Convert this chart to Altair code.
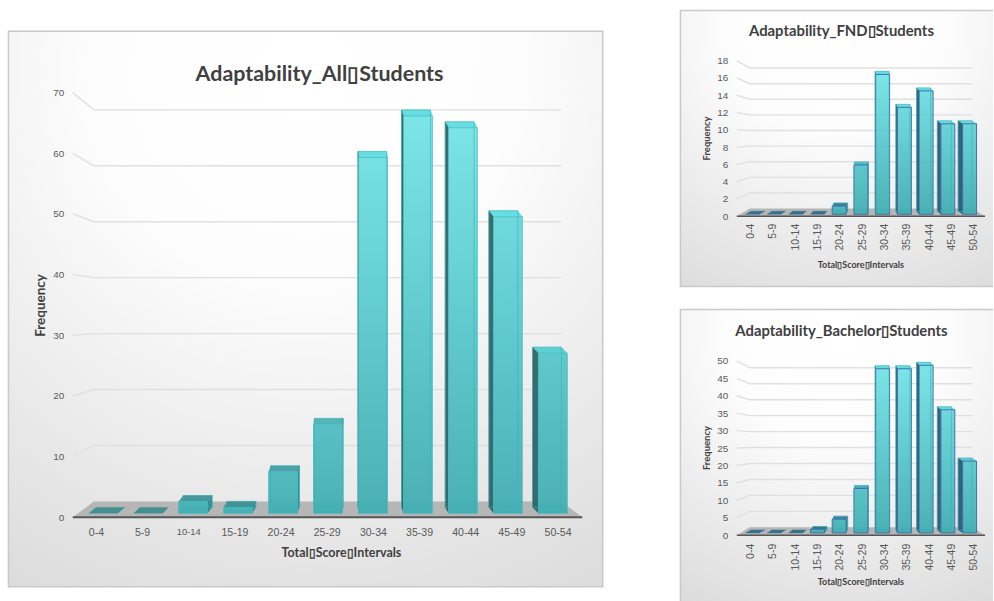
import altair as alt
import pandas as pd

# Score bins and the frequency of each bin for the three student groups
intervals = ["0-4", "5-9", "10-14", "15-19", "20-24", "25-29", "30-34", "35-39", "40-44", "45-49", "50-54"]
all_students = [0, 0, 2, 1, 7, 15, 60, 67, 65, 50, 27]
fnd_students = [0, 0, 0, 0, 1, 6, 17, 13, 15, 11, 11]
bachelor_students = [0, 0, 0, 1, 4, 13, 48, 48, 49, 36, 21]

BOX = "\u25af"
title_all = f"Adaptability_All{BOX}Students"
title_fnd = f"Adaptability_FND{BOX}Students"
title_bachelor = f"Adaptability_Bachelor{BOX}Students"
x_title = f"Total{BOX}Score{BOX}Intervals"
y_title = "Frequency"

LABEL_FONT = "Liberation Sans"
HEAD_FONT = "Lato"


def lerp(a, b, t):
    pa = [int(a[i:i + 2], 16) for i in (1, 3, 5)]
    pb = [int(b[i:i + 2], 16) for i in (1, 3, 5)]
    return "#" + "".join(f"{round(p + (q - p) * t):02x}" for p, q in zip(pa, pb))


def x_domain(origin, per_unit, width):
    return [(0 - origin) / per_unit, (width - origin) / per_unit]


def y_domain(origin, per_unit, height):
    return [(origin - height) / per_unit, origin / per_unit]


def scale(domain):
    return alt.Scale(domain=domain, nice=False, zero=False, padding=0)


def polygon_layer(rows, xs, ys):
    return alt.Chart(pd.DataFrame(rows)).mark_line(strokeWidth=0.4, opacity=0.95).encode(
        x=alt.X("x:Q", scale=xs, axis=None),
        y=alt.Y("y:Q", scale=ys, axis=None),
        order="k:Q",
        detail="face:N",
        fill=alt.Fill("col:N", scale=None),
        stroke=alt.Stroke("col:N", scale=None),
    )


def panel(g, title, values, ticks):
    w, h = g["w"], g["h"]
    one = pd.DataFrame({"a": [0]})
    layers = []

    # Panel backdrop
    layers.append(alt.Chart(one).mark_rect(color={
        "gradient": "radial", "x1": 0.5, "y1": 0.1, "r1": 0, "x2": 0.5, "y2": 0.1, "r2": 1,
        "stops": [{"offset": 0, "color": "#ffffff"}, {"offset": 0.35, "color": "#fdfdfd"},
                  {"offset": 0.95, "color": "#dedede"}, {"offset": 1, "color": "#dcdcdc"}],
    }).encode(x=alt.value(0), x2=alt.value(w), y=alt.value(0), y2=alt.value(h)))

    # Front-plane scales carry the axes, the floor and the wall lines
    fx0, fsp = g["front_x"], g["front_sp"]
    fy0, fs = g["front_y"], g["front_s"]
    xf = scale(x_domain(fx0, fsp, w))
    yf = scale(y_domain(fy0, fs, h))
    to_fx = lambda px: (px - fx0) / fsp
    to_fy = lambda py: (fy0 - py) / fs

    label_size = g["label_size"]
    if g["bump"]:
        label_size = {"condition": {"test": "datum.value == 2", "value": g["label_size"] - 1.2}, "value": g["label_size"]}

    labels_js = "[" + ",".join(f"'{s}'" for s in intervals) + "]"
    x_axis = alt.Axis(
        values=list(range(len(intervals))), labelExpr=f"{labels_js}[datum.value]", offset=-(h - fy0),
        domain=False, ticks=False, grid=False, labelAngle=g["angle"], labelPadding=g["x_pad"], zindex=1,
        labelFont=LABEL_FONT, labelFontSize=label_size, labelColor="#595959", labelOverlap=False,
        labelBaseline="middle" if g["angle"] else "top", labelAlign="right" if g["angle"] else "center",
        title=x_title, titleFont=HEAD_FONT, titleFontSize=g["x_title_size"], titleFontWeight="bold",
        titleColor="#404040", titleX=g["xt_x"], titleY=g["xt_y"], titleBaseline="middle",
    )
    y_axis = alt.Axis(
        values=ticks, offset=-g["y_axis_x"], domain=False, ticks=False, grid=False, labelPadding=0, zindex=1,
        labelFont=LABEL_FONT, labelFontSize=g["y_size"], labelColor="#595959", labelOverlap=False,
        title=y_title, titleFont=HEAD_FONT, titleFontSize=g["y_title_size"], titleFontWeight="bold",
        titleColor="#404040", titleX=g["yt_x"], titleY=g["yt_y"], titleBaseline="middle",
    )

    floor = [(g["floor_l"], fy0), (g["wall_l"], g["wall_y"]), (g["wall_r"], g["wall_y"]), (g["floor_r"], fy0)]
    floor_rows = [{"face": "floor", "k": k, "x": to_fx(px), "y": to_fy(py), "col": "#b6b6b6"}
                  for k, (px, py) in enumerate(floor)]
    layers.append(alt.Chart(pd.DataFrame(floor_rows)).mark_line(strokeWidth=0).encode(
        x=alt.X("x:Q", scale=xf, axis=x_axis),
        y=alt.Y("y:Q", scale=yf, axis=y_axis),
        order="k:Q",
        detail="face:N",
        fill=alt.Fill("col:N", scale=None),
    ))

    grid_rows = []
    for t in ticks[1:]:
        front = to_fy(fy0 - fs * t)
        back = to_fy(g["wall_y"] - g["wall_s"] * t)
        pts = [(g["floor_l"], front), (g["wall_l"], back), (g["wall_r"], back)]
        for k, (px, v) in enumerate(pts):
            grid_rows.append({"tick": t, "k": k, "x": to_fx(px), "y": v})
    layers.append(alt.Chart(pd.DataFrame(grid_rows)).mark_line(color="#e0e0e0", strokeWidth=1.4).encode(
        x=alt.X("x:Q", scale=xf, axis=None),
        y=alt.Y("y:Q", scale=yf, axis=None),
        order="k:Q",
        detail="tick:N",
    ))

    base_line = pd.DataFrame({"x": [to_fx(g["floor_l"])], "x2": [to_fx(g["floor_r"])], "y": [0]})
    layers.append(alt.Chart(base_line).mark_rule(color="#565656", strokeWidth=g["base_w"]).encode(
        x=alt.X("x:Q", scale=xf, axis=None),
        x2="x2:Q",
        y=alt.Y("y:Q", scale=yf, axis=None),
    ))

    # Bar-plane scales: value 0 sits on the bar base, bin i is centred at index i
    bw = g["bar_w"] / g["bar_sp"]
    xb = scale(x_domain(g["bar_x"] + g["bar_w"] / 2, g["bar_sp"], w))
    yb = scale(y_domain(g["bar_y"], g["bar_s"], h))
    vmax = max(values)
    dy = g["depth_y"] / g["bar_s"]
    faces = []
    back_rows = []
    fronts = []
    for i, v in enumerate(values):
        x0, x1 = i - bw / 2, i + bw / 2
        dx = (5.5 - i) * g["depth_x"] / g["bar_sp"]
        top_col = lerp(g["top_low"], "#5fdde1", min(1, v / (0.5 * vmax)))
        quad = [(x0, v), (x1, v), (x1 + dx, v + dy), (x0 + dx, v + dy)]
        faces += [{"face": f"t{i}", "k": k, "x": a, "y": b, "col": top_col} for k, (a, b) in enumerate(quad)]
        if v > 0:
            edge = x1 if dx > 0 else x0
            side_col = g["side_r"] if dx > 0 else g["side_l"]
            quad = [(edge, 0), (edge, v), (edge + dx, v + dy), (edge + dx, dy)]
            faces += [{"face": f"s{i}", "k": k, "x": a, "y": b, "col": side_col} for k, (a, b) in enumerate(quad)]
            back_rows.append({"x": x0 + dx, "x2": x1 + dx, "y": v + dy, "y2": dy})
            upper = lerp("#47b4b8", "#74e4e7", v / vmax)
            fronts.append(alt.Chart(pd.DataFrame({"interval": [intervals[i]], "x": [x0], "x2": [x1], "v": [v], "b": [0]}))
                          .mark_bar(opacity=0.95, stroke=g["edge"], strokeWidth=g["edge_w"], color={
                              "gradient": "linear", "x1": 0, "y1": 0, "x2": 0, "y2": 1,
                              "stops": [{"offset": 0, "color": upper}, {"offset": 1, "color": "#42aeb2"}]})
                          .encode(x=alt.X("x:Q", scale=xb, axis=None), x2="x2:Q",
                                  y=alt.Y("v:Q", scale=yb, axis=None), y2="b:Q"))
    layers.append(polygon_layer(faces, xb, yb))
    layers += fronts
    # Rear edges of the bars, seen through the translucent fronts
    layers.append(alt.Chart(pd.DataFrame(back_rows)).mark_bar(
        fillOpacity=0, stroke="#35b4b9", strokeOpacity=0.6, strokeWidth=1).encode(
        x=alt.X("x:Q", scale=xb, axis=None), x2="x2:Q",
        y=alt.Y("y:Q", scale=yb, axis=None), y2="y2:Q"))

    # Heading
    layers.append(alt.Chart(pd.DataFrame({"t": [title]})).mark_text(
        font=HEAD_FONT, fontSize=g["title_size"], fontWeight="bold", color="#404040", align="center", baseline="middle"
    ).encode(x=alt.value(g["title_x"]), y=alt.value(g["title_y"]), text="t:N"))

    # Panel border, only on the sides that are in frame
    for (xa, xb_, ya, yb_) in g["edges"]:
        layers.append(alt.Chart(one).mark_rule(color="#c9c9c9", strokeWidth=1.5).encode(
            x=alt.value(xa), x2=alt.value(xb_), y=alt.value(ya), y2=alt.value(yb_)))

    return alt.layer(*layers).resolve_scale(x="independent", y="independent").properties(width=w, height=h)


# Every position below is relative to the top-left corner of its panel
main_geo = dict(
    w=597, h=558, front_x=72 - 7 + 23.2, front_sp=46.3, front_y=488, front_s=6.086,
    floor_l=65, floor_r=576, wall_l=86, wall_r=555, wall_y=472, wall_s=5.61,
    bar_x=81, bar_sp=45.1, bar_w=29, bar_y=484, bar_s=5.95, depth_x=1.3, depth_y=6,
    angle=0, x_pad=10, label_size=10.6, y_size=10, bump=True, y_axis_x=56, base_w=2,
    x_title_size=12.5, y_title_size=13.5, xt_x=334, xt_y=35, yt_x=-23, yt_y=275,
    title_size=21.5, title_x=312.5, title_y=44,
    top_low="#3d8f92", side_l="#2f6569", side_r="#2c8e92", edge="#3fbcc1", edge_w=0.8,
    edges=[(0.5, 0.5, 0, 558), (596.5, 596.5, 0, 558), (0, 597, 0.5, 0.5), (0, 597, 557.5, 557.5)],
)

small_common = dict(
    w=314, front_x=70.7, front_sp=22.4, front_s=0, floor_l=57, floor_r=306, wall_l=70, wall_r=293,
    bar_x=65.5, bar_sp=21.8, bar_w=14, depth_x=1.0, depth_y=3,
    angle=-90, label_size=10.5, y_size=10, bump=False, y_axis_x=48, base_w=1.6,
    x_title_size=9, y_title_size=9.5, xt_x=181, yt_x=-21, title_size=14.9, title_x=162,
    top_low="#2d6f8c", side_l="#2b5a78", side_r="#2d7f95", edge="#3c6aa8", edge_w=1,
)
fnd_geo = dict(small_common, h=278, front_y=207, front_s=8.67, wall_y=199.3, wall_s=7.83,
               bar_y=205, bar_s=8.25, x_pad=7, xt_y=48, yt_y=128.5, title_y=22,
               edges=[(0.5, 0.5, 0, 278), (0, 314, 0.5, 0.5), (0, 314, 277.5, 277.5)])
bachelor_geo = dict(small_common, h=294, front_y=227, front_s=3.5, wall_y=219, wall_s=3.2,
                    bar_y=224.6, bar_s=3.43, x_pad=8, xt_y=46, yt_y=139, title_y=23,
                    edges=[(0.5, 0.5, 0, 294), (0, 314, 0.5, 0.5)])

left = panel(main_geo, title_all, all_students, list(range(0, 71, 10)))
top_right = panel(fnd_geo, title_fnd, fnd_students, list(range(0, 19, 2)))
bottom_right = panel(bachelor_geo, title_bachelor, bachelor_students, list(range(0, 51, 5)))

spacer = alt.Chart(pd.DataFrame({"a": [0]})).mark_point(opacity=0, size=0).properties(width=1, height=20)

chart = alt.hconcat(
    alt.vconcat(spacer, left, spacing=0),
    alt.vconcat(top_right, bottom_right, spacing=20),
    spacing=75,
).properties(padding={"left": 7, "top": 8, "right": 0, "bottom": 0}, background="#ffffff").configure_view(stroke=None)

chart.save("out.html", embed_options={"renderer": "svg", "actions": False})
